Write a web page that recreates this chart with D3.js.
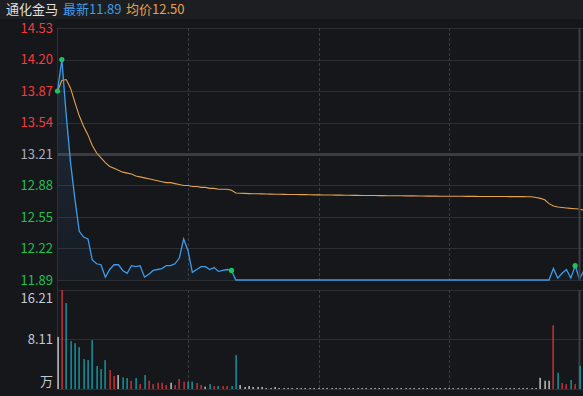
<!DOCTYPE html>
<html>
<head>
<meta charset="utf-8">
<script src="https://cdn.jsdelivr.net/npm/d3@7/dist/d3.min.js"></script>
<style>
  body{margin:0;background:#16171b;}
  svg{display:block;font-family:"Noto Sans CJK SC","Noto Sans",sans-serif;}
</style>
</head>
<body>
<svg id="chart" width="583" height="396"></svg>
<script>
// minute-ish samples (index 0..121), price and average price
const prices = [
  13.87,14.20,13.62,13.12,12.74,12.40,12.34,12.32,12.10,12.06,
  12.05,11.92,12.00,12.05,12.05,11.99,11.96,12.04,12.03,12.04,
  11.92,11.95,11.99,12.00,12.01,12.04,12.04,12.06,12.12,12.32,
  12.20,11.97,12.00,12.03,12.03,12.00,12.02,11.98,11.99,12.00,
  11.99,11.89,11.89,11.89,11.89,11.89,11.89,11.89,11.89,11.89,
  11.89,11.89,11.89,11.89,11.89,11.89,11.89,11.89,11.89,11.89,
  11.89,11.89,11.89,11.89,11.89,11.89,11.89,11.89,11.89,11.89,
  11.89,11.89,11.89,11.89,11.89,11.89,11.89,11.89,11.89,11.89,
  11.89,11.89,11.89,11.89,11.89,11.89,11.89,11.89,11.89,11.89,
  11.89,11.89,11.89,11.89,11.89,11.89,11.89,11.89,11.89,11.89,
  11.89,11.89,11.89,11.89,11.89,11.89,11.89,11.89,11.89,11.89,
  11.89,11.89,11.89,11.89,12.01,11.91,11.96,12.00,11.91,12.04,
  11.90,11.99
];
const avgPrices = [
  13.87,13.98,13.99,13.90,13.75,13.61,13.50,13.41,13.30,13.22,
  13.17,13.12,13.08,13.06,13.04,13.02,13.01,13.00,12.98,12.97,
  12.96,12.95,12.94,12.93,12.92,12.91,12.91,12.90,12.89,12.88,
  12.88,12.87,12.87,12.86,12.86,12.85,12.85,12.84,12.84,12.84,
  12.83,12.801,12.799,12.797,12.795,12.794,12.793,12.792,12.791,12.790,
  12.789,12.788,12.787,12.786,12.786,12.785,12.784,12.784,12.783,12.782,
  12.782,12.781,12.780,12.780,12.779,12.779,12.778,12.778,12.777,12.777,
  12.776,12.776,12.775,12.775,12.774,12.774,12.773,12.773,12.772,12.772,
  12.771,12.771,12.771,12.770,12.770,12.769,12.769,12.769,12.768,12.768,
  12.768,12.767,12.767,12.767,12.766,12.766,12.766,12.765,12.765,12.765,
  12.764,12.764,12.764,12.764,12.763,12.763,12.763,12.763,12.762,12.762,
  12.755,12.745,12.73,12.69,12.665,12.655,12.65,12.645,12.64,12.637,
  12.634,12.62
];
// volume in 万
const volumes = [
  8.53,16.21,14.08,7.83,7.50,6.85,4.90,4.73,8.00,3.75,
  3.26,4.73,3.10,2.12,2.28,1.90,1.80,1.35,1.80,0.80,
  2.28,1.35,0.80,1.03,1.03,0.65,1.03,0.65,1.63,1.20,
  1.20,1.20,0.98,0.65,0.38,0.80,0.49,0.49,0.49,0.49,
  0.49,5.55,0.65,0.33,0.49,0.33,0.33,0.33,0.16,0.16,
  0.33,0.16,0.16,0.16,0.16,0.16,0.16,0.16,0.16,0.16,
  0.16,0.16,0.16,0.16,0.16,0.16,0.16,0.16,0.16,0.16,
  0.16,0.16,0.16,0.16,0.16,0.16,0.16,0.16,0.16,0.16,
  0.16,0.16,0.16,0.16,0.16,0.16,0.16,0.16,0.16,0.16,
  0.16,0.16,0.16,0.16,0.16,0.16,0.16,0.16,0.16,0.16,
  0.16,0.16,0.16,0.16,0.16,0.16,0.16,0.16,0.16,0.16,
  0.16,1.84,1.35,1.35,10.44,2.66,0.98,0.80,1.47,0.80,
  3.80,1.20
];
const markIdx = [0,1,40,119];
const prevClose = 13.21;
const priceTicks = ['14.53','14.20','13.87','13.54','13.21','12.88','12.55','12.22','11.89'];
const volTicks = ['16.21','8.11'];
const header = [{t:'通化金马',c:'#dfe1e6',x:6},{t:'最新11.89',c:'#3d9be9',x:63},{t:'均价12.50',c:'#e3a14e',x:126}];

const svg = d3.select('#chart');
const left = 57.5, last = 120;
const x = d3.scaleLinear().domain([0,last]).range([left,579.5]);
const y = d3.scaleLinear().domain([11.89,14.53]).range([280,28]);
const vy = d3.scaleLinear().domain([0,16.21]).range([389,290]);

svg.append('rect').attr('width',583).attr('height',396).attr('fill','#16171b');
svg.append('rect').attr('width',583).attr('height',19).attr('fill','#1d1e22');
svg.selectAll('.hd').data(header).enter().append('text')
  .attr('x',d=>d.x).attr('y',14).attr('font-size',13).attr('fill',d=>d.c).text(d=>d.t);

// grid
const g = svg.append('g');
g.selectAll('.hg').data(priceTicks).enter().append('line')
  .attr('x1',left).attr('x2',583)
  .attr('y1',d=>Math.round(y(+d))+0.5).attr('y2',d=>Math.round(y(+d))+0.5)
  .attr('stroke',d=>+d===prevClose?'#3a3c42':'#2c2e33')
  .attr('stroke-width',d=>+d===prevClose?3:1);
g.selectAll('.vg').data([0,8.11,16.21]).enter().append('line')
  .attr('x1',left).attr('x2',583)
  .attr('y1',d=>Math.round(vy(d))+0.5).attr('y2',d=>Math.round(vy(d))+0.5)
  .attr('stroke','#2c2e33');
[30,60,90].forEach(i=>{
  [[28,280],[290,389]].forEach(r=>{
    g.append('line').attr('x1',Math.round(x(i))+0.5).attr('x2',Math.round(x(i))+0.5)
      .attr('y1',r[0]).attr('y2',r[1]).attr('stroke','#3a3c42').attr('stroke-dasharray','3,2');
  });
});
g.append('line').attr('x1',57.5).attr('x2',57.5).attr('y1',28).attr('y2',389).attr('stroke','#2c2e33');

// tick labels
svg.selectAll('.pt').data(priceTicks).enter().append('text')
  .attr('x',53).attr('y',d=>y(+d)+4.5).attr('text-anchor','end').attr('font-size',13)
  .attr('fill',d=>+d>prevClose?'#f23b3f':(+d<prevClose?'#1fc050':'#aab1bd')).text(d=>d);
svg.selectAll('.vt').data(volTicks).enter().append('text')
  .attr('x',53).attr('y',d=>vy(+d)+(+d===16.21?13:4.5)).attr('text-anchor','end').attr('font-size',13)
  .attr('fill','#c4c9d2').text(d=>d);
svg.append('text').attr('x',53).attr('y',386).attr('text-anchor','end').attr('font-size',13)
  .attr('fill','#c4c9d2').text('万');

// area + lines
const defs = svg.append('defs');
const grad = defs.append('linearGradient').attr('id','ag').attr('x1',0).attr('y1',0).attr('x2',0).attr('y2',1);
grad.append('stop').attr('offset','0%').attr('stop-color','#3d8fd9').attr('stop-opacity',0.16);
grad.append('stop').attr('offset','100%').attr('stop-color','#3d8fd9').attr('stop-opacity',0.04);
const pts = prices.map((p,i)=>[i,p]);
svg.append('path').datum(pts).attr('fill','url(#ag)')
  .attr('d',d3.area().x(d=>x(d[0])).y0(280).y1(d=>y(d[1])));
svg.append('path').datum(avgPrices.map((p,i)=>[i,p])).attr('fill','none')
  .attr('stroke','#e3a14e').attr('stroke-width',1.1)
  .attr('d',d3.line().x(d=>x(d[0])).y(d=>y(d[1])));
svg.append('path').datum(pts).attr('fill','none')
  .attr('stroke','#3d9be9').attr('stroke-width',1.3)
  .attr('d',d3.line().x(d=>x(d[0])).y(d=>y(d[1])));

// cursor line at last bar
svg.append('rect').attr('x',x(last)-1).attr('y',28).attr('width',2).attr('height',252).attr('fill','#3b3e44');
svg.append('rect').attr('x',x(last)-1).attr('y',290).attr('width',2).attr('height',99).attr('fill','#3b3e44');

svg.selectAll('.mk').data(markIdx).enter().append('circle')
  .attr('cx',i=>x(i)).attr('cy',i=>y(prices[i])).attr('r',2.6).attr('fill','#1fc35a');

// volume bars
const volColor = i=>{
  if(i===0) return '#e8e8e8';
  const d = prices[i]-prices[i-1];
  return d>0?'#f0393d':(d<0?'#13b3c2':'#e8e8e8');
};
svg.selectAll('.vb').data(volumes).enter().append('rect')
  .attr('x',(v,i)=>Math.round(x(i))-0.5).attr('width',1.2)
  .attr('y',v=>vy(v)).attr('height',v=>389-vy(v))
  .attr('fill',(v,i)=>volColor(i));
</script>
</body>
</html>
